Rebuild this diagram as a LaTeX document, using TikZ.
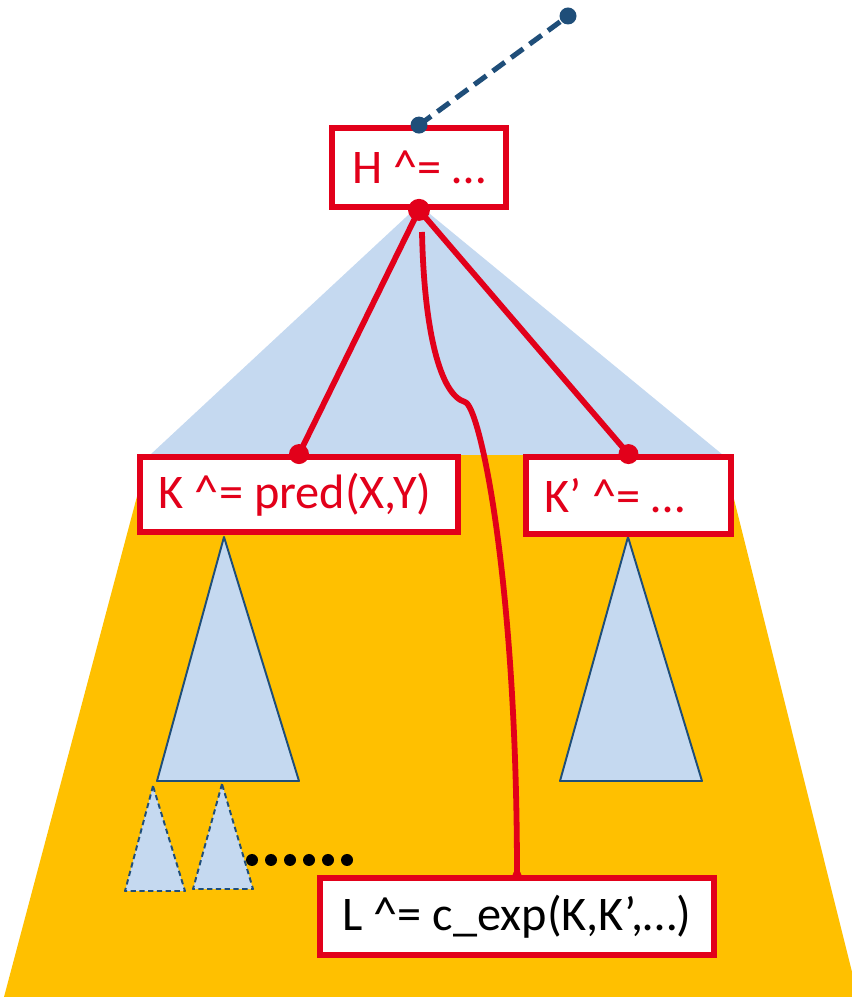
\documentclass[tikz,border=0pt]{standalone}
\usepackage{fontspec}
\setmainfont{Carlito}
\usepackage{xcolor}
\usepackage{tikz}

\definecolor{hred}{HTML}{E2001A}
\definecolor{hblue}{HTML}{1F4E79}
\definecolor{lblue}{HTML}{C5D9F0}
\definecolor{hgold}{HTML}{FFC000}

\begin{document}
\begin{tikzpicture}[
    every node/.style={font=\fontsize{27.5}{31}\selectfont},
    rulebox/.style={draw=hred, line width=3.3pt, fill=white, text=hred, inner sep=0pt},
    reddot/.style={circle, fill=hred, inner sep=0pt, minimum size=0.44cm},
    bluedot/.style={circle, fill=hblue, inner sep=0pt, minimum size=0.34cm},
    blackdot/.style={circle, fill=black, inner sep=0pt, minimum size=0.24cm},
    subtree/.style={fill=lblue, draw=hblue, line width=1.1pt, line join=round},
    redline/.style={hred, line width=3.3pt}
]
    \useasboundingbox (0,0) rectangle (17.04,19.94);

    % Region below the split
    \fill[hgold] (2.96,10.84) -- (14.46,10.84) -- (17.04,0.5) -- (17.04,0) -- (0.08,0) -- cycle;
    % Subtree under H
    \fill[lblue] (8.38,15.84) -- (3.0,10.84) -- (14.46,10.84) -- cycle;

    % Subtrees of K and K'
    \draw[subtree] (4.48,9.2) -- (3.14,4.32) -- (5.98,4.32) -- cycle;
    \draw[subtree] (12.56,9.2) -- (11.2,4.32) -- (14.04,4.32) -- cycle;
    \draw[subtree, dash pattern=on 3pt off 2pt] (3.06,4.22) -- (2.5,2.12) -- (3.7,2.12) -- cycle;
    \draw[subtree, dash pattern=on 3pt off 2pt] (4.44,4.26) -- (3.86,2.16) -- (5.06,2.16) -- cycle;
    \foreach \i in {0,...,5}
        \node[blackdot] (dot\i) at (5.04+0.38*\i, 2.74) {};

    % Rule boxes
    \node[rulebox, minimum width=3.48cm, minimum height=1.58cm] (H) at (8.38,16.59) {H \textasciicircum= …};
    \node[rulebox, minimum width=6.36cm, minimum height=1.5cm] (K) at (5.98,10.05) {K \textasciicircum= pred(X,Y)\hspace{0.15cm}\null};
    \node[rulebox, minimum width=4.1cm, minimum height=1.54cm] (K2) at (12.57,10.03) {K’ \textasciicircum= …\hspace{0.55cm}\null};
    \node[rulebox, minimum width=7.88cm, minimum height=1.54cm, text=black] (L) at (10.34,1.61) {L \textasciicircum= c\_exp(K,K’,…)};

    % Link to the parent
    \node[bluedot] (top) at (11.36,19.62) {};
    \node[bluedot] (Htop) at (H.north) {};
    \draw[hblue, line width=2.9pt, dash pattern=on 8.5pt off 4.5pt] (Htop.center) -- (top.center);

    % Edges to K and K'
    \node[reddot] (Hbot) at (H.south) {};
    \node[reddot, minimum size=0.4cm] (Ktop) at (K.north) {};
    \node[reddot, minimum size=0.4cm] (K2top) at (K2.north) {};
    \draw[redline] (Hbot.center) -- (Ktop.center);
    \draw[redline] (Hbot.center) -- (K2top.center);

    % Path down to L
    \coordinate (cstart) at (8.44,15.30);
    \node[reddot, minimum size=0.18cm] (Ltop) at (L.north) {};
    \draw[redline] (cstart) .. controls (8.48,13.34) and (8.8,12.04) .. (9.3,11.9)
        .. controls (9.6,11.82) and (10.34,8.34) .. (Ltop.center);
\end{tikzpicture}
\end{document}
